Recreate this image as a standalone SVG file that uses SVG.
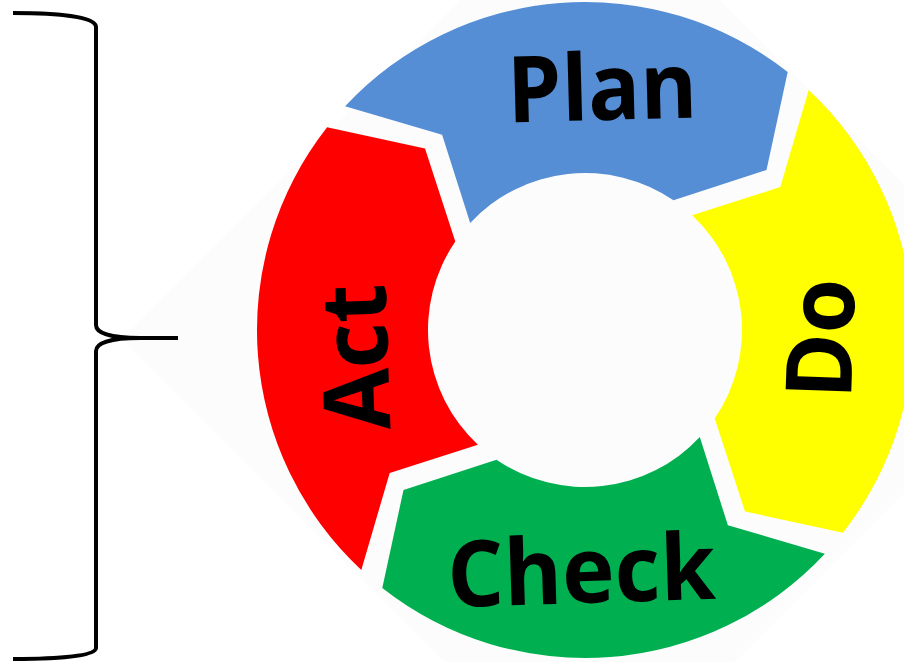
<svg xmlns="http://www.w3.org/2000/svg" width="904" height="662" viewBox="0 0 904 662">
  <style>
    .lbl { font-family: "Open Sans", "Liberation Sans", sans-serif; font-weight: 700; font-size: 92px; fill: #000; text-anchor: middle; }
    .brace { fill: none; stroke: #000; stroke-width: 4; stroke-linecap: butt; stroke-linejoin: round; }
  </style>
  <defs>
    <path id="seg" d="M345.1,106.3 A328,328 0 0 1 787.7,72.1 L766.5,170.0 L673.5,200.3 A157,157 0 0 0 470.2,222.9 L442.1,134.7 Z"/>
  </defs>
  <rect width="904" height="662" fill="#ffffff"/>
  <polygon id="backdrop" points="122,339 590,-129 1058,339 590,807" fill="#fcfcfc"/>
  <g id="brace">
    <path class="brace" d="M13,13 C60,13 96,17 96,27 L96,325 C96,333 110,338 140,338 L178,338 M140,338 C110,338 96,343 96,351 L96,648 C96,656 60,659 13,659"/>
  </g>
  <g id="node-plan">
    <use href="#seg" fill="#558ED5"/>
    <text class="lbl" x="602.5" y="120" textLength="190" lengthAdjust="spacingAndGlyphs" transform="rotate(-1.5 602.5 100)">Plan</text>
  </g>
  <g id="node-do">
    <use href="#seg" fill="#FFFF00" transform="rotate(90 585 330)"/>
    <text class="lbl" x="0" y="0" textLength="120" lengthAdjust="spacingAndGlyphs" transform="translate(853 339.5) rotate(-88)">Do</text>
  </g>
  <g id="node-check">
    <use href="#seg" fill="#00B050" transform="rotate(180 585 330)"/>
    <text class="lbl" x="581.5" y="603" textLength="268" lengthAdjust="spacingAndGlyphs" transform="rotate(-1.8 581.5 580)">Check</text>
  </g>
  <g id="node-act">
    <use href="#seg" fill="#FF0000" transform="rotate(270 585 330)"/>
    <text class="lbl" x="0" y="0" textLength="146" lengthAdjust="spacingAndGlyphs" transform="translate(388 356) rotate(-92)">Act</text>
  </g>
</svg>
